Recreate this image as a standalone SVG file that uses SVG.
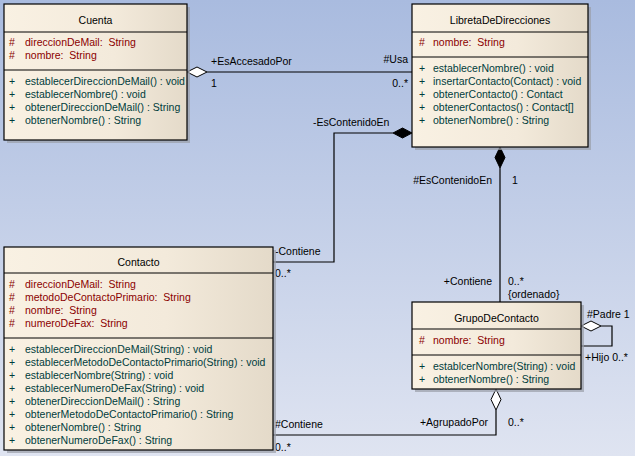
<svg xmlns="http://www.w3.org/2000/svg" width="635" height="456" viewBox="0 0 635 456" xml:space="preserve">
<defs>
<linearGradient id="bg" x1="0" y1="0" x2="0" y2="1">
<stop offset="0" stop-color="#a9bbdf"/>
<stop offset="1" stop-color="#dfe4f1"/>
</linearGradient>
<linearGradient id="boxfill" x1="0" y1="0" x2="1" y2="0">
<stop offset="0" stop-color="#f9f1e3"/>
<stop offset="0.6" stop-color="#f3eadb"/>
<stop offset="1" stop-color="#e4dac9"/>
</linearGradient>
</defs>
<style>
text{font-family:"Liberation Sans",Arial,sans-serif;font-size:10.5px;white-space:pre;}
.box{fill:url(#boxfill);stroke:#000;stroke-width:1.2;}
.shadow{fill:#9a9ea8;opacity:0.7;}
.sep{stroke:#000;stroke-width:1;}
.title{fill:#000;text-anchor:middle;}
.attr{fill:#8b0000;}
.op{fill:#003c3c;}
.lbl{fill:#000;}
.end{text-anchor:end;}
.line{fill:none;stroke:#000;stroke-width:1.2;}
.hollow{fill:#fff;stroke:#000;stroke-width:1;}
.filled{fill:#000;stroke:#000;stroke-width:1;}
</style>
<rect x="0" y="0" width="635" height="456" fill="url(#bg)"/>
<g id="connectors">
<line class="line" x1="207" y1="72" x2="412" y2="72"/>
<polygon class="hollow" points="187,72 197,67 207,72 197,77"/>
<text class="lbl" x="211" y="65">+EsAccesadoPor</text>
<text class="lbl" x="211" y="87">1</text>
<text class="lbl end" x="408" y="63">#Usa</text>
<text class="lbl end" x="408" y="87">0..*</text>
<polyline class="line" points="393,133 334,133 334,262 273,262"/>
<polygon class="filled" points="412,133 402.5,128 393,133 402.5,138"/>
<text class="lbl" x="313" y="126">-EsContenidoEn</text>
<text class="lbl" x="275" y="255">-Contiene</text>
<text class="lbl" x="275" y="277">0..*</text>
<line class="line" x1="500" y1="168" x2="500" y2="302"/>
<polygon class="filled" points="500,147 505,157.5 500,168 495,157.5"/>
<text class="lbl end" x="492" y="184">#EsContenidoEn</text>
<text class="lbl" x="512" y="184">1</text>
<text class="lbl end" x="492" y="285">+Contiene</text>
<text class="lbl" x="508" y="285">0..*</text>
<text class="lbl" x="508" y="298">{ordenado}</text>
<polyline class="line" points="496,410 496,435 273,435"/>
<polygon class="hollow" points="496,389 501,399.5 496,410 491,399.5"/>
<text class="lbl end" x="488" y="426">+AgrupadoPor</text>
<text class="lbl" x="508" y="426">0..*</text>
<text class="lbl" x="275" y="428">#Contiene</text>
<text class="lbl" x="275" y="451">0..*</text>
<polyline class="line" points="601,326 612,326 612,346 581,346"/>
<polygon class="hollow" points="581,326 591,321 601,326 591,331"/>
<text class="lbl" x="587" y="318">#Padre 1</text>
<text class="lbl" x="585" y="361">+Hijo 0..*</text>
</g>
<g id="Cuenta">
<rect class="shadow" x="7" y="7" width="183" height="136"/>
<rect class="box" x="4" y="4" width="183" height="136"/>
<line class="sep" x1="4" y1="32" x2="187" y2="32"/>
<line class="sep" x1="4" y1="70" x2="187" y2="70"/>
<text class="title" x="95.5" y="24">Cuenta</text>
<text class="attr" x="9" y="46">#</text><text class="attr" x="25" y="46">direccionDeMail:  String</text>
<text class="attr" x="9" y="59">#</text><text class="attr" x="25" y="59">nombre:  String</text>
<text class="op" x="9" y="85">+</text><text class="op" x="25" y="85">establecerDireccionDeMail() : void</text>
<text class="op" x="9" y="98">+</text><text class="op" x="25" y="98">establecerNombre() : void</text>
<text class="op" x="9" y="111">+</text><text class="op" x="25" y="111">obtenerDireccionDeMail() : String</text>
<text class="op" x="9" y="124">+</text><text class="op" x="25" y="124">obtenerNombre() : String</text>
</g>
<g id="LibretaDeDirecciones">
<rect class="shadow" x="415" y="7" width="176" height="143"/>
<rect class="box" x="412" y="4" width="176" height="143"/>
<line class="sep" x1="412" y1="32" x2="588" y2="32"/>
<line class="sep" x1="412" y1="57" x2="588" y2="57"/>
<text class="title" x="500" y="24">LibretaDeDirecciones</text>
<text class="attr" x="419" y="46">#</text><text class="attr" x="433" y="46">nombre:  String</text>
<text class="op" x="419" y="72">+</text><text class="op" x="433" y="72">establecerNombre() : void</text>
<text class="op" x="419" y="85">+</text><text class="op" x="433" y="85">insertarContacto(Contact) : void</text>
<text class="op" x="419" y="98">+</text><text class="op" x="433" y="98">obtenerContacto() : Contact</text>
<text class="op" x="419" y="111">+</text><text class="op" x="433" y="111">obtenerContactos() : Contact[]</text>
<text class="op" x="419" y="124">+</text><text class="op" x="433" y="124">obtenerNombre() : String</text>
</g>
<g id="Contacto">
<rect class="shadow" x="7" y="250" width="269" height="203"/>
<rect class="box" x="4" y="247" width="269" height="203"/>
<line class="sep" x1="4" y1="273" x2="273" y2="273"/>
<line class="sep" x1="4" y1="338" x2="273" y2="338"/>
<text class="title" x="138.5" y="266">Contacto</text>
<text class="attr" x="9" y="288">#</text><text class="attr" x="25" y="288">direccionDeMail:  String</text>
<text class="attr" x="9" y="301">#</text><text class="attr" x="25" y="301">metodoDeContactoPrimario:  String</text>
<text class="attr" x="9" y="314">#</text><text class="attr" x="25" y="314">nombre:  String</text>
<text class="attr" x="9" y="327">#</text><text class="attr" x="25" y="327">numeroDeFax:  String</text>
<text class="op" x="9" y="353">+</text><text class="op" x="25" y="353">establecerDireccionDeMail(String) : void</text>
<text class="op" x="9" y="366">+</text><text class="op" x="25" y="366">establecerMetodoDeContactoPrimario(String) : void</text>
<text class="op" x="9" y="379">+</text><text class="op" x="25" y="379">establecerNombre(String) : void</text>
<text class="op" x="9" y="392">+</text><text class="op" x="25" y="392">establecerNumeroDeFax(String) : void</text>
<text class="op" x="9" y="405">+</text><text class="op" x="25" y="405">obtenerDireccionDeMail() : String</text>
<text class="op" x="9" y="418">+</text><text class="op" x="25" y="418">obtenerMetodoDeContactoPrimario() : String</text>
<text class="op" x="9" y="431">+</text><text class="op" x="25" y="431">obtenerNombre() : String</text>
<text class="op" x="9" y="444">+</text><text class="op" x="25" y="444">obtenerNumeroDeFax() : String</text>
</g>
<g id="GrupoDeContacto">
<rect class="shadow" x="415" y="305" width="169" height="87"/>
<rect class="box" x="412" y="302" width="169" height="87"/>
<line class="sep" x1="412" y1="329" x2="581" y2="329"/>
<line class="sep" x1="412" y1="355" x2="581" y2="355"/>
<text class="title" x="496.5" y="322">GrupoDeContacto</text>
<text class="attr" x="419" y="344">#</text><text class="attr" x="433" y="344">nombre:  String</text>
<text class="op" x="419" y="370">+</text><text class="op" x="433" y="370">establcerNombre(String) : void</text>
<text class="op" x="419" y="383">+</text><text class="op" x="433" y="383">obtenerNombre() : String</text>
</g>
</svg>
